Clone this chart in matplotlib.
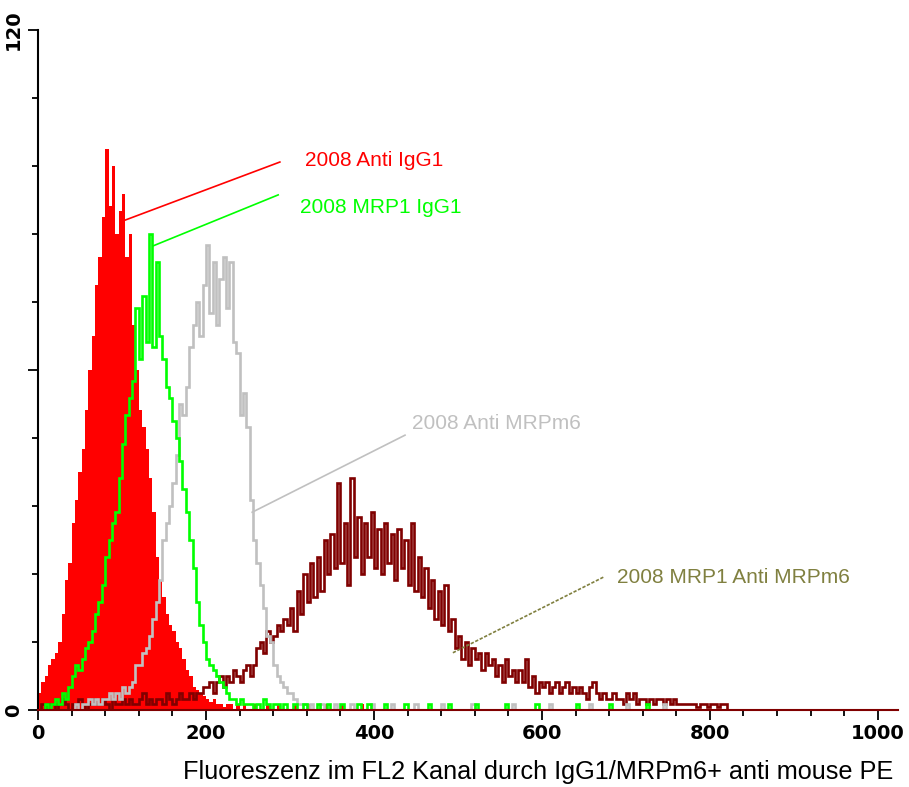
import matplotlib.pyplot as plt
import numpy as np
from matplotlib.ticker import MultipleLocator

# histogram counts, 4 channels per bin
bin_width = 4

red_start = 0
red_counts = [3, 5, 6, 8, 9, 10, 12, 17, 23, 26, 33, 37, 42, 46, 53, 60, 66, 75, 80, 87,
              99, 89, 96, 84, 88, 91, 80, 84, 68, 60, 53, 50, 46, 41, 35, 27, 23, 20, 17, 15,
              14, 12, 11, 9, 7, 6, 4, 3.5, 3, 2.5, 2, 1.5, 2, 1, 1, 0.5, 1, 1, 0, 1,
              0, 1, 0, 0, 1, 0, 0, 0, 1, 0, 0, 1, 0, 0, 0, 0, 1, 0, 0, 0,
              1, 0, 0, 0, 0, 1, 0, 0, 0, 0, 1, 0, 0, 0, 0, 0, 1, 0, 0, 0]

green_start = 0
green_counts = [0, 0, 1, 0, 1, 2, 1, 3, 2, 4, 6, 8, 7, 9, 11, 12, 14, 17, 19, 22,
                27, 30, 33, 35, 41, 47, 52, 55, 58, 71, 62, 73, 65, 84, 64, 79, 66, 62, 57, 55,
                51, 48, 44, 39, 35, 30, 25, 19, 15, 12, 9, 8, 7, 6, 5, 4, 3, 2, 2, 1,
                2, 1, 1, 1, 0, 1, 0, 2, 1, 0, 1, 1, 0, 1, 0, 0, 1, 0, 0, 1,
                0, 0, 0, 1, 0, 0, 1, 0, 0, 0, 1, 0, 0, 0, 0, 1, 0, 0, 1, 0,
                0, 0, 0, 1, 0, 0, 0, 0, 0, 1, 0, 0, 0, 0, 0, 0, 1, 0, 0, 0,
                0, 0, 1, 0, 0, 0, 0, 0, 0, 0, 1, 0, 0, 0, 0, 0, 0, 0, 0, 1,
                0, 0, 0, 0, 0, 0, 0, 0, 1, 0, 0, 0, 0, 0, 0, 0, 0, 0, 0, 0,
                1, 0, 0, 0, 0, 0, 0, 0, 0, 0, 1, 0, 0, 0, 0, 0, 0, 0, 0, 0,
                0, 1, 0, 0, 0, 0, 0, 0, 0, 0]

gray_start = 40
gray_counts = [0, 1, 0, 1, 1, 2, 1, 2, 1, 2,
               2, 3, 2, 3, 2, 4, 3, 4, 5, 8, 8, 10, 11, 13, 16, 19, 23, 30, 33, 36,
               40, 45, 54, 52, 57, 64, 68, 72, 66, 75, 82, 70, 79, 68, 76, 80, 71, 79, 65, 63,
               52, 56, 50, 37, 30, 26, 22, 18, 13, 12, 8, 6, 5, 4, 3, 3, 2, 1, 1, 1,
               0, 1, 0, 0, 1, 0, 0, 0, 1, 0, 0, 0, 0, 1, 0, 0, 0, 0, 0, 1,
               0, 0, 0, 0, 0, 1, 0, 0, 0, 0, 0, 0, 1, 0, 0, 0, 0, 0, 0, 0,
               1, 0, 0, 0, 0, 0, 0, 0, 0, 1, 0, 0, 0, 0, 0, 0, 0, 0, 0, 0,
               0, 1, 0, 0, 0, 0, 0, 0, 0, 0, 0, 0, 1, 0, 0, 0, 0, 0, 0, 0,
               0, 0, 0, 0, 1, 0, 0, 0, 0, 0, 0, 0, 0, 0, 0, 1, 0, 0, 0, 0,
               0, 0, 0, 0, 0, 0, 1, 0, 0, 0]

maroon_start = 0
maroon_counts = [0, 1, 0, 1, 1, 0, 1, 2, 1, 0, 1, 1, 2, 1, 0, 1, 2, 1, 1, 2,
                 1, 0, 2, 1, 1, 2, 1, 2, 1, 1, 2, 3, 1, 2, 1, 2, 2, 1, 3, 2,
                 1, 2, 3, 2, 2, 3, 2, 3, 3, 4,
                 4, 5, 3, 5, 6, 4, 6, 5, 7, 6, 5, 7, 8, 6, 8, 11, 12, 10, 14, 12,
                 13, 15, 14, 16, 15,
                 18, 14, 21, 17, 24, 19, 26, 20, 27, 21, 30, 24, 31, 25, 40, 26, 33, 22, 41, 27,
                 34, 24, 33, 27, 35,
                 25, 32, 24, 33, 26, 31, 23, 32, 25, 30, 22, 33, 21, 27, 20, 25, 18, 23, 16, 21,
                 15, 22, 14, 16, 11,
                 13, 9, 12, 8, 11, 9, 10, 7, 10, 8, 9, 6, 8, 5, 9, 6, 7, 5, 7, 5,
                 9, 4, 6, 3, 5,
                 4, 5, 3, 4, 5, 3, 4, 5, 3, 4, 3, 4, 3, 2, 4, 5, 3, 2, 3, 2,
                 2, 3, 2, 2, 1,
                 3, 2, 3, 1, 2, 2, 1, 2, 1, 2, 2, 1, 2, 1, 2, 1, 1, 1, 1, 1,
                 1, 0.5, 1, 1, 0.5,
                 1, 1, 0.5, 1, 1, 0, 0, 0, 0, 0]

labels = ["2008 Anti IgG1", "2008 MRP1 IgG1", "2008 Anti MRPm6", "2008 MRP1 Anti MRPm6"]
x_title = "Fluoreszenz im FL2 Kanal durch IgG1/MRPm6+ anti mouse PE"


def edges(start, counts):
    return start + bin_width * np.arange(len(counts) + 1)


fig = plt.figure(figsize=(9.09, 7.87), dpi=100)
ax = fig.add_axes([38 / 909, 77 / 787, 860 / 909, 680 / 787])

ax.stairs(red_counts, edges(red_start, red_counts), fill=True, color="#ff0000", zorder=1)
ax.stairs(maroon_counts, edges(maroon_start, maroon_counts), color="#800000", lw=1.9, zorder=2)
ax.stairs(gray_counts, edges(gray_start, gray_counts), color="#c0c0c0", lw=1.9, zorder=3)
ax.stairs(green_counts, edges(green_start, green_counts), color="#00ff00", lw=1.9, zorder=4)

ax.set_xlim(0, 1024)
ax.set_ylim(0, 120)

for s in ["top", "right"]:
    ax.spines[s].set_visible(False)
ax.spines["left"].set_linewidth(1.5)
ax.spines["bottom"].set_linewidth(1.5)
ax.spines["bottom"].set_color("#800000")
ax.spines["bottom"].set_zorder(5)

ax.set_xticks([0, 200, 400, 600, 800, 1000])
ax.xaxis.set_minor_locator(MultipleLocator(40))
ax.set_yticks([0, 60, 120])
ax.set_yticklabels(["0", "", "120"], rotation=90, va="center")
ax.yaxis.set_minor_locator(MultipleLocator(12))
ax.tick_params(axis="both", which="major", length=7, width=1.3, color="black")
ax.tick_params(axis="both", which="minor", length=4, width=1.3, color="black")
ax.tick_params(axis="x", labelsize=14, pad=3)
ax.tick_params(axis="y", labelsize=14, pad=4)
for t in ax.get_xticklabels() + ax.get_yticklabels():
    t.set_fontweight("bold")

# annotation leader lines
ann_font = dict(family="Liberation Sans", fontsize=15)
ax.plot([101, 288], [86.3, 96.7], color="#ff0000", lw=1.2, zorder=6)
ax.text(318, 97, labels[0], color="#ff0000", va="center", **ann_font)
ax.plot([137, 286], [81.9, 90.9], color="#00ff00", lw=1.2, zorder=6)
ax.text(312, 88.6, labels[1], color="#00ff00", va="center", **ann_font)
ax.plot([255, 437], [34.9, 48.5], color="#c0c0c0", lw=1.2, zorder=6)
ax.text(445, 50.6, labels[2], color="#c0c0c0", va="center", **ann_font)
ax.plot([494, 674], [10.1, 23.5], color="#808040", lw=1.2, ls=(0, (2, 1)), zorder=6)
ax.text(690, 23.3, labels[3], color="#808040", va="center", **ann_font)

fig.text(893 / 909, 1 - 772 / 787, x_title, ha="right", va="center",
         family="Liberation Sans", fontsize=18.2)

fig.savefig("out.png", dpi=100)
